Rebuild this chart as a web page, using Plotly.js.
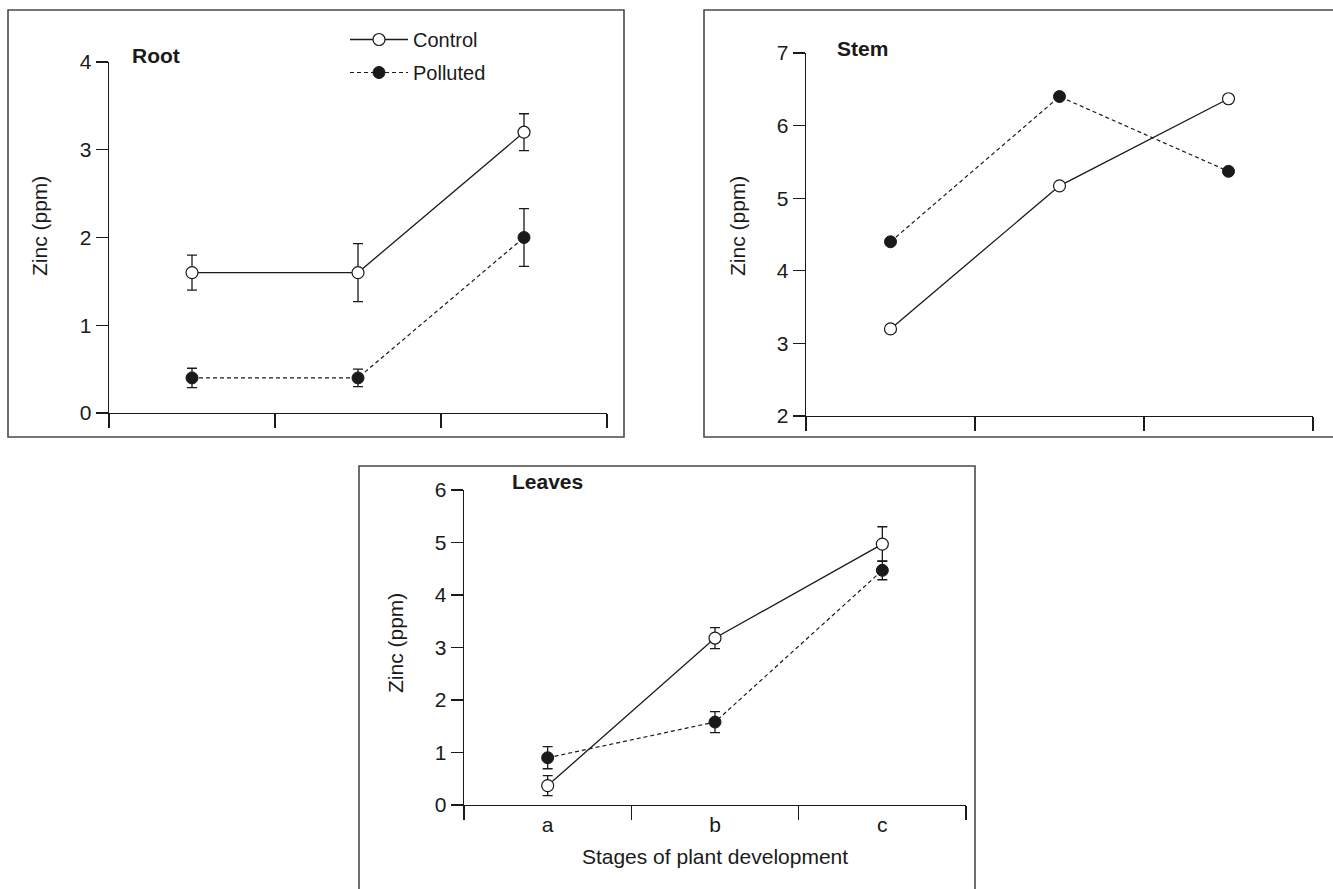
<!DOCTYPE html>
<html>
<head>
<meta charset="utf-8">
<script src="https://cdn.plot.ly/plotly-3.0.1.min.js"></script>
<style>html,body{margin:0;padding:0;background:#fff;}#chart{width:1333px;height:889px;}</style>
</head>
<body>
<div id="chart"></div>
<script>
// ---- data ----
const stages = ['a', 'b', 'c'];
const seriesNames = ['Control', 'Polluted'];
const panelNames = ['Root', 'Stem', 'Leaves'];

const rootControl = [1.6, 1.6, 3.2];
const rootControlErr = [0.2, 0.33, 0.21];
const rootPolluted = [0.4, 0.4, 2.0];
const rootPollutedErr = [0.11, 0.1, 0.33];

const stemControl = [3.2, 5.17, 6.37];
const stemPolluted = [4.4, 6.4, 5.37];

const leavesControl = [0.37, 3.18, 4.97];
const leavesControlErr = [0.19, 0.2, 0.33];
const leavesPolluted = [0.9, 1.58, 4.47];
const leavesPollutedErr = [0.21, 0.2, 0.18];

const rootTicks = [0, 1, 2, 3, 4];
const stemTicks = [2, 3, 4, 5, 6, 7];
const leavesTicks = [0, 1, 2, 3, 4, 5, 6];

const yTitle = 'Zinc (ppm)';
const xTitle = 'Stages of plant development';

// ---- layout helpers (pixel -> paper) ----
const W = 1333, H = 889;
const px = v => v / W;
const py = v => 1 - v / H;
const FONT = 'Liberation Sans, Arial, sans-serif';
const INK = '#1a1a1a';

function ctrlTrace(y, err, xa, ya, showlegend) {
  const t = {
    x: stages, y: y, xaxis: xa, yaxis: ya, type: 'scatter', mode: 'lines+markers',
    name: seriesNames[0], legendgroup: 'c', showlegend: showlegend,
    line: {color: INK, width: 1.3},
    marker: {symbol: 'circle', size: 12, color: '#ffffff', line: {color: INK, width: 1.2}}
  };
  if (err) t.error_y = {type: 'data', array: err, visible: true, color: INK, thickness: 1.3, width: 5};
  return t;
}
function pollTrace(y, err, xa, ya, showlegend) {
  const t = {
    x: stages, y: y, xaxis: xa, yaxis: ya, type: 'scatter', mode: 'lines+markers',
    name: seriesNames[1], legendgroup: 'p', showlegend: showlegend,
    line: {color: INK, width: 1.2, dash: '4px,3px'},
    marker: {symbol: 'circle', size: 12, color: INK, line: {color: INK, width: 1}}
  };
  if (err) t.error_y = {type: 'data', array: err, visible: true, color: INK, thickness: 1.3, width: 5};
  return t;
}

const data = [
  ctrlTrace(rootControl, rootControlErr, 'x', 'y', true),
  pollTrace(rootPolluted, rootPollutedErr, 'x', 'y', true),
  ctrlTrace(stemControl, null, 'x2', 'y2', false),
  pollTrace(stemPolluted, null, 'x2', 'y2', false),
  ctrlTrace(leavesControl, leavesControlErr, 'x3', 'y3', false),
  pollTrace(leavesPolluted, leavesPollutedErr, 'x3', 'y3', false)
];

function xAxis(d, anchor, labels, title) {
  const a = {
    domain: d, anchor: anchor, type: 'category', range: [-0.5, 2.5],
    tickson: 'boundaries', ticks: 'outside', ticklen: 14, tickwidth: 1.3, tickcolor: INK,
    showline: true, linecolor: INK, linewidth: 1.3, showgrid: false, zeroline: false,
    showticklabels: labels, tickfont: {family: FONT, size: 21, color: INK}, fixedrange: true
  };
  if (title) a.title = {text: title, font: {family: FONT, size: 21, color: INK}, standoff: 14};
  return a;
}
function yAxis(d, anchor, range, ticks) {
  return {
    domain: d, anchor: anchor, range: range, tickvals: ticks, ticktext: ticks.map(String),
    ticks: 'outside', ticklen: 12, tickwidth: 1.3, tickcolor: INK,
    showline: true, linecolor: INK, linewidth: 1.3, showgrid: false, zeroline: false,
    tickfont: {family: FONT, size: 21, color: INK},
    fixedrange: true
  };
}

const frame = (x0, y0, x1, y1) => ({
  type: 'rect', xref: 'paper', yref: 'paper', x0: px(x0), x1: px(x1), y0: py(y0), y1: py(y1),
  line: {color: '#4a4a4a', width: 1.6}, fillcolor: 'rgba(0,0,0,0)', layer: 'below'
});
const panelLabel = (text, cx, cy) => ({
  text: '<b>' + text + '</b>', xref: 'paper', yref: 'paper', x: px(cx), y: py(cy),
  xanchor: 'center', yanchor: 'middle', showarrow: false,
  font: {family: FONT, size: 21, color: INK}
});
const yLabel = (cx, cy) => ({
  text: yTitle, xref: 'paper', yref: 'paper', x: px(cx), y: py(cy),
  xanchor: 'center', yanchor: 'middle', showarrow: false, textangle: -90,
  font: {family: FONT, size: 21, color: INK}
});

const layout = {
  width: W, height: H, margin: {l: 0, r: 0, t: 0, b: 0},
  paper_bgcolor: '#ffffff', plot_bgcolor: 'rgba(0,0,0,0)',
  font: {family: FONT, color: INK},
  showlegend: true,
  legend: {
    x: px(345), y: py(20), xanchor: 'left', yanchor: 'top',
    font: {family: FONT, size: 20, color: INK}, bgcolor: 'rgba(0,0,0,0)',
    tracegroupgap: 4, itemwidth: 58
  },
  xaxis: xAxis([px(109), px(607)], 'y', false),
  yaxis: yAxis([py(413), py(62)], 'x', [0, 4], rootTicks),
  xaxis2: xAxis([px(806), px(1313)], 'y2', false),
  yaxis2: yAxis([py(416), py(53)], 'x2', [2, 7], stemTicks),
  xaxis3: xAxis([px(464), px(966)], 'y3', true, xTitle),
  yaxis3: yAxis([py(805), py(490)], 'x3', [0, 6], leavesTicks),
  shapes: [
    frame(8, 10, 624, 437),
    frame(704, 10, 1345, 437),
    frame(359, 466, 975, 900)
  ],
  annotations: [
    panelLabel(panelNames[0], 156, 55),
    panelLabel(panelNames[1], 862, 48),
    panelLabel(panelNames[2], 547, 482),
    yLabel(40, 226),
    yLabel(738, 226),
    yLabel(395, 643)
  ]
};

Plotly.newPlot('chart', data, layout, {displayModeBar: false, staticPlot: true});
</script>
</body>
</html>
